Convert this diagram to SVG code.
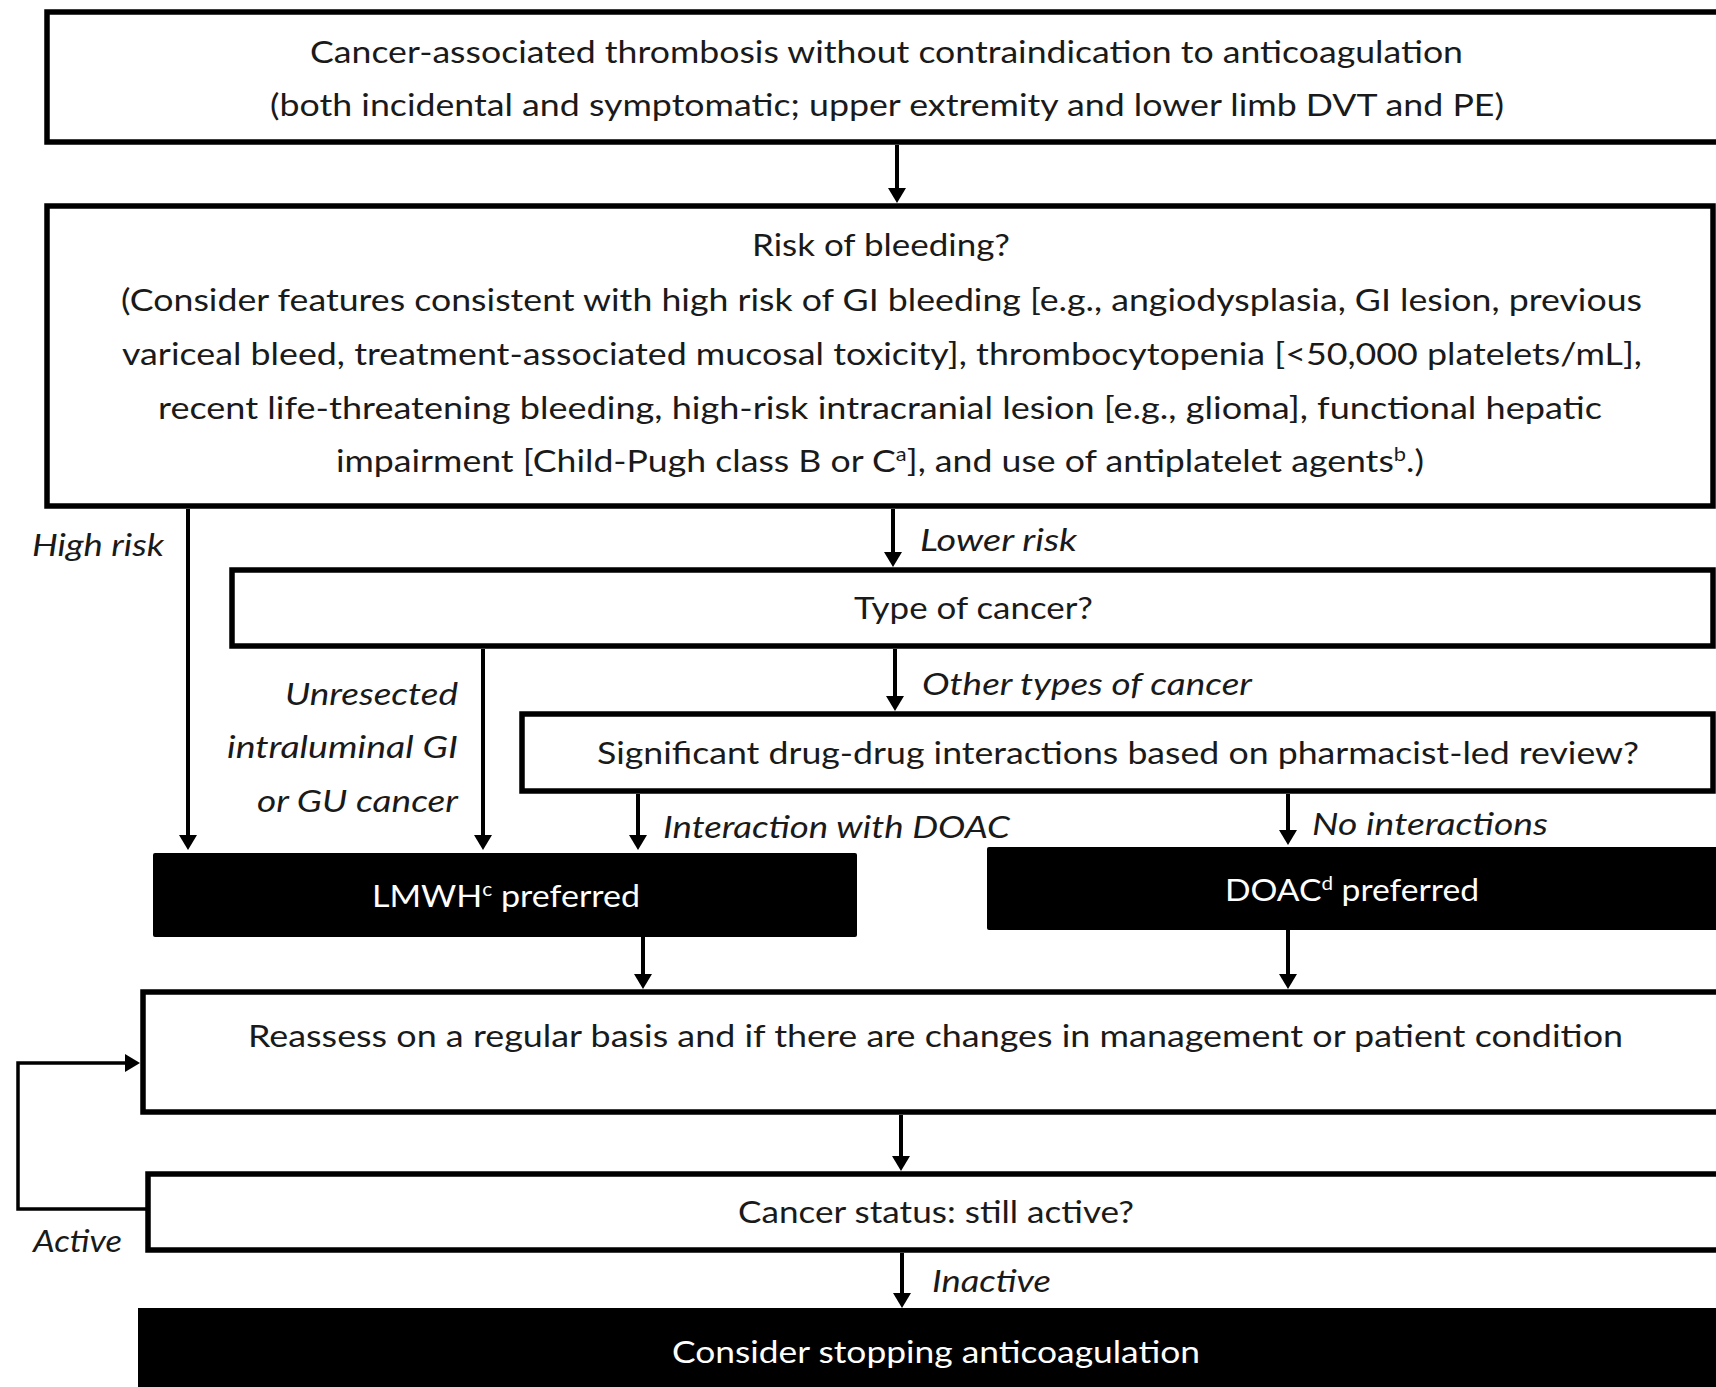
<svg xmlns="http://www.w3.org/2000/svg" width="1716" height="1387" viewBox="0 0 1716 1387">
<style>
.box{fill:#fff;stroke:#000;stroke-width:5.5}
.dark{fill:#000;stroke:none}
.t{font-family:Lato,"Open Sans","Liberation Sans",sans-serif;font-size:31px;fill:#1a1a1a}
.w{fill:#fff}
.lab{font-family:Lato,"Open Sans","Liberation Sans",sans-serif;font-size:31px;font-style:italic;fill:#1a1a1a}
.c{fill:none;stroke:#000;stroke-width:4}
.lp{fill:none;stroke:#000;stroke-width:3.5}
</style>
<defs>
<marker id="ah" viewBox="0 0 15 18" refX="9" refY="9" markerWidth="15" markerHeight="18" markerUnits="userSpaceOnUse" orient="auto">
<path d="M0,0 L15,9 L0,18 z" fill="#000"/>
</marker>
</defs>
<rect width="1716" height="1387" fill="#fff"/>
<g id="connectors">
<path class="c" d="M897,145 V197" marker-end="url(#ah)"/>
<path class="c" d="M188,509 V844" marker-end="url(#ah)"/>
<path class="c" d="M893,509 V561" marker-end="url(#ah)"/>
<path class="c" d="M483,649 V844" marker-end="url(#ah)"/>
<path class="c" d="M895,649 V705" marker-end="url(#ah)"/>
<path class="c" d="M638,794 V844" marker-end="url(#ah)"/>
<path class="c" d="M1288,794 V839" marker-end="url(#ah)"/>
<path class="c" d="M643,937 V983" marker-end="url(#ah)"/>
<path class="c" d="M1288,930 V983" marker-end="url(#ah)"/>
<path class="c" d="M901,1115 V1165" marker-end="url(#ah)"/>
<path class="c" d="M902,1253 V1302" marker-end="url(#ah)"/>
<path class="lp" d="M146,1209 H18 V1063 H134" marker-end="url(#ah)"/>
<text class="lab" x="32" y="556" textLength="132" lengthAdjust="spacingAndGlyphs">High risk</text>
<text class="lab" x="920" y="551" textLength="157" lengthAdjust="spacingAndGlyphs">Lower risk</text>
<text class="lab" x="285" y="705" textLength="173" lengthAdjust="spacingAndGlyphs">Unresected</text>
<text class="lab" x="227" y="758" textLength="231" lengthAdjust="spacingAndGlyphs">intraluminal GI</text>
<text class="lab" x="257" y="812" textLength="201" lengthAdjust="spacingAndGlyphs">or GU cancer</text>
<text class="lab" x="922" y="695" textLength="330" lengthAdjust="spacingAndGlyphs">Other types of cancer</text>
<text class="lab" x="663" y="838" textLength="347" lengthAdjust="spacingAndGlyphs">Interaction with DOAC</text>
<text class="lab" x="1312" y="835" textLength="236" lengthAdjust="spacingAndGlyphs">No interactions</text>
<text class="lab" x="33" y="1252" textLength="89" lengthAdjust="spacingAndGlyphs">Active</text>
<text class="lab" x="932" y="1292" textLength="119" lengthAdjust="spacingAndGlyphs">Inactive</text>
</g>
<g id="n1">
<rect class="box" x="47" y="12" width="1700" height="130"/>
<text class="t" x="310" y="63" textLength="1153" lengthAdjust="spacingAndGlyphs">Cancer-associated thrombosis without contraindication to anticoagulation</text>
<text class="t" x="270" y="116" textLength="1234" lengthAdjust="spacingAndGlyphs">(both incidental and symptomatic; upper extremity and lower limb DVT and PE)</text>
</g>
<g id="n2">
<rect class="box" x="47" y="206" width="1666" height="300"/>
<text class="t" x="752" y="256" textLength="258" lengthAdjust="spacingAndGlyphs">Risk of bleeding?</text>
<text class="t" x="121" y="311" textLength="1521" lengthAdjust="spacingAndGlyphs">(Consider features consistent with high risk of GI bleeding [e.g., angiodysplasia, GI lesion, previous</text>
<text class="t" x="122" y="365" textLength="1520" lengthAdjust="spacingAndGlyphs">variceal bleed, treatment-associated mucosal toxicity], thrombocytopenia [&lt;50,000 platelets/mL],</text>
<text class="t" x="158" y="419" textLength="1444" lengthAdjust="spacingAndGlyphs">recent life-threatening bleeding, high-risk intracranial lesion [e.g., glioma], functional hepatic</text>
<text class="t" x="336" y="472" textLength="1088" lengthAdjust="spacingAndGlyphs">impairment [Child-Pugh class B or C<tspan dy="-11" font-size="19">a</tspan><tspan dy="11">], and use of antiplatelet agents</tspan><tspan dy="-11" font-size="19">b</tspan><tspan dy="11">.)</tspan></text>
</g>
<g id="n3">
<rect class="box" x="232" y="570" width="1481" height="76"/>
<text class="t" x="854" y="619" textLength="239" lengthAdjust="spacingAndGlyphs">Type of cancer?</text>
</g>
<g id="n4">
<rect class="box" x="522" y="714" width="1191" height="77"/>
<text class="t" x="597" y="764" textLength="1042" lengthAdjust="spacingAndGlyphs">Significant drug-drug interactions based on pharmacist-led review?</text>
</g>
<g id="n5">
<rect class="dark" x="153" y="853" width="704" height="84" rx="2"/>
<text class="t w" x="372" y="907" textLength="268" lengthAdjust="spacingAndGlyphs">LMWH<tspan dy="-11" font-size="19">c</tspan><tspan dy="11"> preferred</tspan></text>
</g>
<g id="n6">
<rect class="dark" x="987" y="847" width="760" height="83" rx="2"/>
<text class="t w" x="1225" y="901" textLength="254" lengthAdjust="spacingAndGlyphs">DOAC<tspan dy="-11" font-size="19">d</tspan><tspan dy="11"> preferred</tspan></text>
</g>
<g id="n7">
<rect class="box" x="143" y="992" width="1620" height="120"/>
<text class="t" x="248" y="1047" textLength="1375" lengthAdjust="spacingAndGlyphs">Reassess on a regular basis and if there are changes in management or patient condition</text>
</g>
<g id="n8">
<rect class="box" x="148" y="1174" width="1620" height="76"/>
<text class="t" x="738" y="1223" textLength="396" lengthAdjust="spacingAndGlyphs">Cancer status: still active?</text>
</g>
<g id="n9">
<rect class="dark" x="138" y="1308" width="1640" height="90"/>
<text class="t w" x="672" y="1363" textLength="528" lengthAdjust="spacingAndGlyphs">Consider stopping anticoagulation</text>
</g>
</svg>
